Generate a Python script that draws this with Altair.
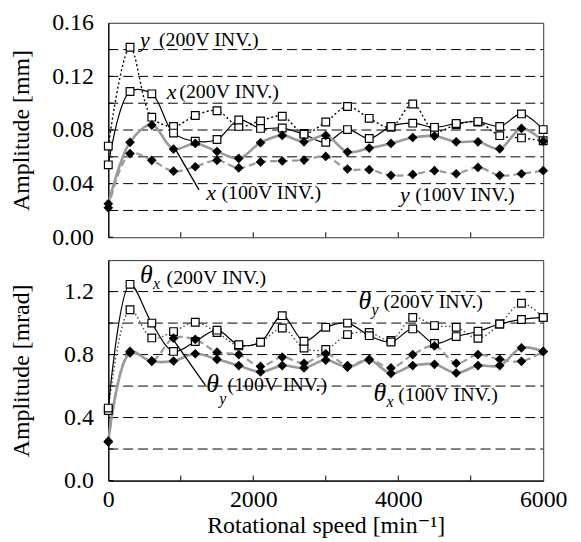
import altair as alt
import pandas as pd

# ---------------- data ----------------
speed = [0, 300, 600, 900, 1200, 1500, 1800, 2100, 2400, 2700, 3000,
         3300, 3600, 3900, 4200, 4500, 4800, 5100, 5400, 5700, 6000]

# top panel: amplitude [mm]
x_200 = [0.054, 0.1087, 0.107, 0.0777, 0.0717, 0.0729, 0.0875, 0.0812, 0.0815, 0.0768, 0.0708,
         0.0803, 0.0737, 0.0827, 0.0851, 0.082, 0.0849, 0.0863, 0.0827, 0.092, 0.0803]
y_200 = [0.068, 0.1417, 0.0896, 0.0827, 0.0908, 0.0944, 0.0827, 0.0868, 0.0903, 0.0775, 0.086,
         0.0975, 0.0887, 0.082, 0.0994, 0.079, 0.084, 0.086, 0.0758, 0.0741, 0.072]
x_100 = [0.025, 0.0708, 0.0837, 0.0658, 0.070, 0.064, 0.0588, 0.0705, 0.076, 0.0712, 0.076,
         0.0636, 0.0665, 0.070, 0.0744, 0.0755, 0.0712, 0.0712, 0.066, 0.0812, 0.0717]
y_100 = [0.022, 0.0624, 0.0574, 0.0493, 0.0526, 0.0574, 0.0517, 0.0562, 0.0569, 0.0576, 0.0603,
         0.0509, 0.0504, 0.0462, 0.0469, 0.0497, 0.0474, 0.0521, 0.0462, 0.0474, 0.0497]

# bottom panel: amplitude [mrad]
tx_200 = [0.46, 1.246, 1.0, 0.82, 0.883, 0.955, 0.862, 0.879, 1.047, 0.885, 0.973,
          1.0, 0.92, 0.88, 0.963, 0.87, 0.914, 0.948, 0.994, 1.023, 1.036]
ty_200 = [0.445, 1.085, 0.906, 0.946, 1.005, 0.94, 0.855, 0.879, 0.969, 0.841, 0.833,
          0.927, 0.94, 0.89, 1.036, 0.984, 0.973, 0.904, 0.994, 1.126, 1.036]
tx_100 = [0.25, 0.81, 0.757, 0.759, 0.805, 0.77, 0.73, 0.69, 0.73, 0.715, 0.765,
          0.72, 0.765, 0.68, 0.73, 0.738, 0.683, 0.73, 0.73, 0.843, 0.82]
ty_100 = [0.245, 0.82, 0.76, 0.904, 0.896, 0.815, 0.80, 0.725, 0.784, 0.745, 0.805,
          0.73, 0.77, 0.715, 0.80, 0.855, 0.745, 0.80, 0.77, 0.757, 0.82]

x_ticks = [0, 2000, 4000, 6000]
x_minor = [1000, 2000, 3000, 4000, 5000]
top_labels = [0.0, 0.04, 0.08, 0.12, 0.16]
top_grid = [0.02, 0.04, 0.06, 0.08, 0.10, 0.12, 0.14]
bot_labels = [0.0, 0.4, 0.8, 1.2]
bot_grid = [0.2, 0.4, 0.6, 0.8, 1.0, 1.2]

# annotations: (italic symbol, x, y) and (rest text, x, y)
top_sym = ["y", "x", "x", "y"]
top_sym_x = [438, 808, 1352, 4023]
top_sym_y = [0.1471, 0.1082, 0.033, 0.0318]
top_txt = ["(200V INV.)", "(200V INV.)", "(100V INV.)", "(100V INV.)"]
top_txt_x = [699, 980, 1562, 4233]
top_txt_y = [0.1471, 0.1082, 0.033, 0.0318]
top_leader = [1251, 0.0354, 918, 0.0665]

bot_theta_x = [438, 3452, 1352, 3658]
bot_theta_y = [1.304, 1.137, 0.614, 0.557]
bot_sub = ["x", "y", "y", "x"]
bot_sub_x = [618, 3632, 1532, 3838]
bot_sub_y = [1.245, 1.08, 0.52, 0.50]
bot_txt = ["(200V INV.)", "(200V INV.)", "(100V INV.)", "(100V INV.)"]
bot_txt_x = [804, 3795, 1645, 4000]
bot_txt_y = [1.288, 1.131, 0.606, 0.545]
bot_leader = [1338, 0.606, 881, 0.904]

FONT = "'Liberation Serif', 'Times New Roman', Times, 'DejaVu Serif', serif"
W = 438
H1 = 216
H2 = 222
XS = alt.Scale(domain=[0, 6000], nice=False)


def series_df(vals):
    return pd.DataFrame({"speed": speed, "value": vals})


def panel(series, ysc, label_vals, fmt, grid_vals, ytitle, H, show_x, labels):
    X = lambda f: alt.X(f, type="quantitative", scale=XS,
                        axis=(alt.Axis(values=x_ticks, format="d", ticks=False, grid=False,
                                       labelFlush=False, labelPadding=7,
                                       title="Rotational speed [min\u207b\u00b9]",
                                       titlePadding=2) if show_x else None))
    Y = lambda f: alt.Y(f, type="quantitative", scale=ysc,
                        axis=alt.Axis(values=label_vals, format=fmt, ticks=False, grid=False,
                                      labelFlush=False, labelPadding=15, title=ytitle,
                                      titleX=-75))
    layers = []
    gdf = pd.DataFrame({"g": grid_vals})
    layers.append(alt.Chart(gdf).mark_rule(color="black", strokeDash=[10, 5], strokeWidth=1)
                  .encode(y=Y("g"), x=alt.value(0), x2=alt.value(W)))
    tdf = pd.DataFrame({"g": [0] + grid_vals})
    layers.append(alt.Chart(tdf).mark_rule(color="black", strokeWidth=1)
                  .encode(y=Y("g"), x=alt.value(0), x2=alt.value(5)))
    xdf = pd.DataFrame({"t": x_minor})
    layers.append(alt.Chart(xdf).mark_rule(color="black", strokeWidth=1)
                  .encode(x=X("t"), y=alt.value(H), y2=alt.value(H - 5)))
    # lines
    for vals, color, dash, sw, kind in series:
        lm = dict(color=color, strokeWidth=sw, interpolate="catmull-rom")
        if dash:
            lm["strokeDash"] = dash
        layers.append(alt.Chart(series_df(vals)).mark_line(**lm)
                      .encode(x=X("speed"), y=Y("value")))
    # squares then diamonds
    for vals, color, dash, sw, kind in series:
        if kind == "sq":
            layers.append(alt.Chart(series_df(vals)).mark_point(
                shape="square", filled=True, fill="white", stroke="black",
                strokeWidth=1.2, size=60, opacity=1)
                .encode(x=X("speed"), y=Y("value")))
    for vals, color, dash, sw, kind in series:
        if kind == "dm":
            layers.append(alt.Chart(series_df(vals)).mark_point(
                shape="diamond", filled=True, color="black", size=95, opacity=1)
                .encode(x=X("speed"), y=Y("value")))
    layers.extend(labels(X, Y))
    return alt.layer(*layers).properties(width=W, height=H)


def top_labels_fn(X, Y):
    out = []
    out.append(alt.Chart(pd.DataFrame({"a": top_sym_x, "b": top_sym_y, "t": top_sym}))
               .mark_text(font=FONT, fontSize=22, fontStyle="italic", align="left",
                          baseline="middle", color="black")
               .encode(x=X("a"), y=Y("b"), text="t:N"))
    out.append(alt.Chart(pd.DataFrame({"a": top_txt_x, "b": top_txt_y, "t": top_txt}))
               .mark_text(font=FONT, fontSize=20, align="left", baseline="middle", color="black")
               .encode(x=X("a"), y=Y("b"), text="t:N"))
    out.append(alt.Chart(pd.DataFrame({"a": [top_leader[0]], "b": [top_leader[1]],
                                       "c": [top_leader[2]], "d": [top_leader[3]]}))
               .mark_rule(color="black", strokeWidth=1.3)
               .encode(x=X("a"), y=Y("b"), x2="c:Q", y2="d:Q"))
    return out


def bot_labels_fn(X, Y):
    out = []
    out.append(alt.Chart(pd.DataFrame({"a": bot_theta_x, "b": bot_theta_y, "t": ["\u03b8"] * 4}))
               .mark_text(font=FONT, fontSize=26, fontStyle="italic", align="left",
                          baseline="middle", color="black")
               .encode(x=X("a"), y=Y("b"), text="t:N"))
    out.append(alt.Chart(pd.DataFrame({"a": bot_sub_x, "b": bot_sub_y, "t": bot_sub}))
               .mark_text(font=FONT, fontSize=16, fontStyle="italic", align="left",
                          baseline="middle", color="black")
               .encode(x=X("a"), y=Y("b"), text="t:N"))
    out.append(alt.Chart(pd.DataFrame({"a": bot_txt_x, "b": bot_txt_y, "t": bot_txt}))
               .mark_text(font=FONT, fontSize=20, align="left", baseline="middle", color="black")
               .encode(x=X("a"), y=Y("b"), text="t:N"))
    out.append(alt.Chart(pd.DataFrame({"a": [bot_leader[0]], "b": [bot_leader[1]],
                                       "c": [bot_leader[2]], "d": [bot_leader[3]]}))
               .mark_rule(color="black", strokeWidth=1.3)
               .encode(x=X("a"), y=Y("b"), x2="c:Q", y2="d:Q"))
    return out


GRAY = "#9a9a9a"
top_series = [
    (y_200, "black", [2, 2.5], 1.4, "sq"),
    (x_200, "black", None, 1.2, "sq"),
    (x_100, GRAY, None, 2.6, "dm"),
    (y_100, GRAY, [7, 4], 2.2, "dm"),
]
bot_series = [
    (ty_200, "#444444", [1.5, 2.5], 1.4, "sq"),
    (tx_200, "black", None, 1.2, "sq"),
    (tx_100, GRAY, None, 2.6, "dm"),
    (ty_100, GRAY, [7, 4], 2.2, "dm"),
]

top = panel(top_series, alt.Scale(domain=[0, 0.16], nice=False), top_labels, ".2f",
            top_grid, "Amplitude [mm]", H1, False, top_labels_fn)
bot = panel(bot_series, alt.Scale(domain=[0, 1.4], nice=False), bot_labels, ".1f",
            bot_grid, "Amplitude [mrad]", H2, True, bot_labels_fn)

chart = (alt.vconcat(top, bot, spacing=9)
         .properties(padding={"left": 1, "top": 0, "right": 5, "bottom": 0}, background="white")
         .configure_view(stroke="#333333", strokeWidth=1)
         .configure_axis(labelFont=FONT, titleFont=FONT, labelFontSize=24, titleFontSize=24,
                         labelColor="black", titleColor="black", titleFontWeight="normal",
                         domainColor="black", domainWidth=1.2))

chart.save("out.html", embed_options={"renderer": "svg", "actions": False})
